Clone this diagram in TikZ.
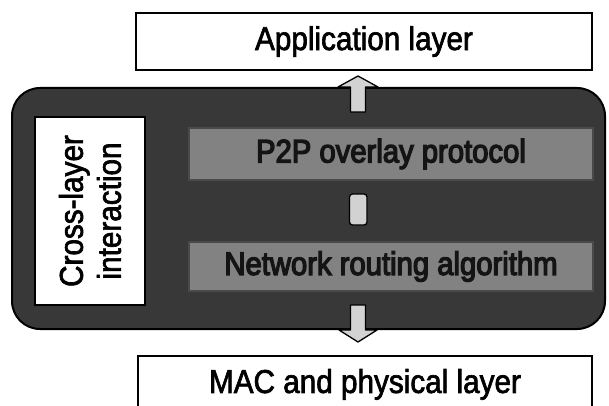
\documentclass[tikz,border=0pt]{standalone}
\usepackage{fontspec}
\setmainfont{Liberation Sans}
\newfontface\outerfont{Liberation Sans}[FakeBold=2, FakeStretch=0.9]
\newfontface\innerfont{Liberation Sans}[FakeBold=4, FakeStretch=0.9]
\definecolor{darkfill}{HTML}{383838}
\definecolor{midfill}{HTML}{828282}
\definecolor{midline}{HTML}{4A4A4A}
\definecolor{arrowfill}{HTML}{D2D2D2}
\tikzset{
  layerbox/.style={draw=black, line width=1.8pt, fill=white, inner sep=0pt,
    font=\outerfont\fontsize{33}{36}\selectfont},
  innerbox/.style={draw=midline, line width=1.5pt, fill=midfill, inner sep=0pt,
    text=black!92, font=\innerfont\fontsize{32.5}{36}\selectfont},
  outerbox/.style={draw=black, line width=2pt, fill=darkfill, rounded corners=28pt},
  crossbox/.style={draw=black, line width=1.2pt, fill=white, inner sep=0pt},
  blockarrow/.style={draw=black, line width=1.3pt, fill=arrowfill, line join=round}
}
\begin{document}
\begin{tikzpicture}[x=1pt,y=-1pt]
\clip (0,0) rectangle (609,406);
\fill[white] (0,0) rectangle (609,406);
% outer cross-layer region
\draw[outerbox] (12,88) rectangle (605,329);
% top and bottom layers
\node[layerbox, minimum width=456pt, minimum height=57pt] (app) at (364,41.5) {Application layer};
\node[layerbox, minimum width=454pt, minimum height=57pt, anchor=north] (mac) at (365,355) {MAC and physical layer};
% inner layers
\node[innerbox, minimum width=404pt, minimum height=52pt] (p2p) at (391,154) {P2P overlay protocol};
\node[innerbox, minimum width=404pt, minimum height=49pt] (net) at (391,266.5) {Network routing algorithm};
% cross-layer box
\node[crossbox, minimum width=110pt, minimum height=188pt] (cross) at (90,211) {};
\node[rotate=90, align=center, font=\outerfont\fontsize{33}{38}\selectfont] (crosstext) at (cross.center) {Cross-layer\\interaction};
% top arrow (up), from the cross-layer region to the application layer
\draw[blockarrow] (350.5,112) -- (350.5,87) -- (338,87) -- (358,76) -- (378,87) -- (365.5,87) -- (365.5,112) -- cycle;
% middle connector between the inner layers
\draw[blockarrow, rounded corners=3pt] (349.5,194) rectangle (367,225);
% bottom arrow (down), towards the MAC layer
\draw[blockarrow] (350.5,305) -- (350.5,330) -- (339,330) -- (358,342) -- (377,330) -- (365.5,330) -- (365.5,305) -- cycle;
\end{tikzpicture}
\end{document}
